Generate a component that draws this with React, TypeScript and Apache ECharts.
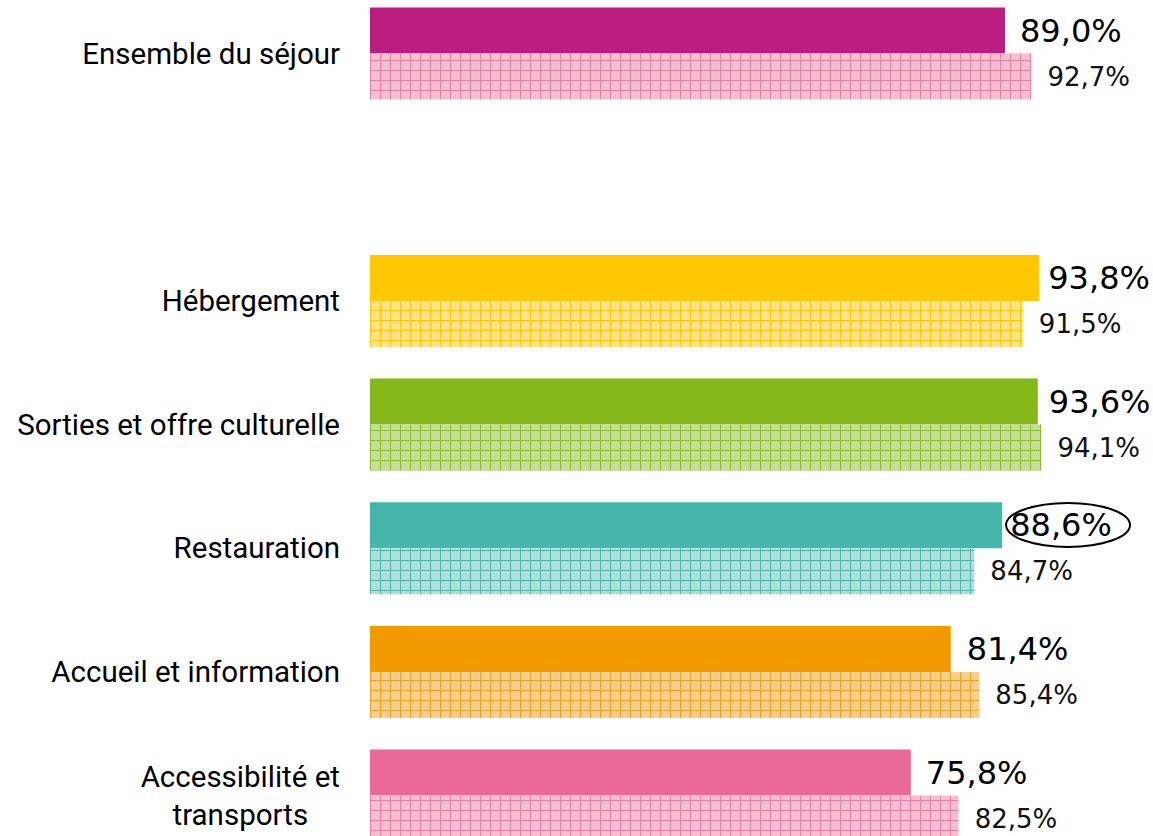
import React, { useEffect, useRef } from "react";
import * as echarts from "echarts";

const categories = [
  "Ensemble du séjour",
  "",
  "Hébergement",
  "Sorties et offre culturelle",
  "Restauration",
  "Accueil et information",
  "Accessibilité et\ntransports",
];
const currentValues: (number | null)[] = [89.0, null, 93.8, 93.6, 88.6, 81.4, 75.8];
const previousValues: (number | null)[] = [92.7, null, 91.5, 94.1, 84.7, 85.4, 82.5];

const solidColors = ["#BB1E80", "", "#FFC800", "#85B81B", "#46B7AB", "#F39A00", "#E96A98"];
const patternFills = ["#F6B8CC", "", "#FFE07E", "#BEDC8A", "#A6DDD6", "#F9CB80", "#F6B8CC"];
const patternLines = ["#EC7DA4", "", "#FFC800", "#8DBE2A", "#4DB9AD", "#F3A020", "#EC7DA4"];
const solidLabelGap = [15, 0, 9, 11, 8, 16, 15];

function makeTile(fill: string, line: string) {
  const c = document.createElement("canvas");
  c.width = 10;
  c.height = 10;
  const ctx = c.getContext("2d")!;
  ctx.fillStyle = fill;
  ctx.fillRect(0, 0, 10, 10);
  ctx.fillStyle = "rgba(255,255,255,0.18)";
  for (let y = 1; y < 10; y++) {
    for (let x = 1; x < 10; x++) {
      if ((x + y) % 2 === 0) ctx.fillRect(x, y, 1, 1);
    }
  }
  ctx.fillStyle = line;
  ctx.fillRect(0, 0, 10, 1);
  ctx.fillRect(0, 0, 1, 10);
  return c;
}

const fmt = (v: number) => v.toFixed(1).replace(".", ",") + "%";

const OFFSET = 20;

export default function App() {
  const ref = useRef<HTMLDivElement>(null);
  useEffect(() => {
    if (!ref.current) return;
    const chart = echarts.init(ref.current, null, { renderer: "svg" });
    const solidData = currentValues.map((v, i) =>
      v == null
        ? null
        : {
            value: v,
            itemStyle: { color: solidColors[i] },
            label: { distance: solidLabelGap[i] },
          }
    );
    const patternData = previousValues.map((v, i) =>
      v == null
        ? null
        : {
            value: v,
            itemStyle: {
              color: {
                image: makeTile(patternFills[i], patternLines[i]),
                repeat: "repeat",
                imageWidth: 10,
                imageHeight: 10,
              },
            },
          }
    );
    chart.setOption({
      animation: false,
      grid: { left: 370, top: OFFSET - 8.3, width: 713.5, height: 865.7, containLabel: false },
      xAxis: {
        type: "value",
        min: 0,
        max: 100,
        show: false,
      },
      yAxis: {
        type: "category",
        inverse: true,
        data: categories,
        axisLine: { show: false },
        axisTick: { show: false },
        splitLine: { show: false },
        axisLabel: {
          margin: 30,
          color: "#000",
          fontFamily: "Roboto",
          fontSize: 29.5,
          formatter: (v: string) =>
            v.includes("\n") ? v.split("\n").map((l) => `{c|${l}}`).join("\n") : v,
          rich: {
            c: { align: "center", fontFamily: "Roboto", fontSize: 29.5, lineHeight: 38, color: "#000" },
          },
        },
      },
      series: [
        {
          type: "bar",
          data: solidData,
          barWidth: 46,
          barGap: "0%",
          label: {
            show: true,
            position: "right",
            distance: 15,
            color: "#000",
            fontFamily: "DejaVu Sans",
            fontSize: 32,
            formatter: (p: any) => (p.value == null ? "" : fmt(p.value)),
          },
        },
        {
          type: "bar",
          data: patternData,
          barWidth: 46,
          barGap: "0%",
          label: {
            show: true,
            position: "right",
            distance: 16,
            color: "#111",
            fontFamily: "DejaVu Sans",
            fontSize: 26,
            formatter: (p: any) => (p.value == null ? "" : fmt(p.value)),
          },
        },
      ],
      graphic: [
        {
          type: "ellipse",
          shape: { cx: 1068, cy: 525 + OFFSET, rx: 62, ry: 22 },
          style: { fill: "none", stroke: "#000", lineWidth: 2 },
          z: 100,
        },
      ],
    });
    return () => chart.dispose();
  }, []);
  return (
    <div
      style={{
        position: "absolute",
        left: 0,
        top: 0,
        width: 1153,
        height: 836,
        overflow: "hidden",
      }}
    >
      <div
        ref={ref}
        style={{ position: "absolute", left: 0, top: -OFFSET, width: 1153, height: 900 }}
      />
    </div>
  );
}
